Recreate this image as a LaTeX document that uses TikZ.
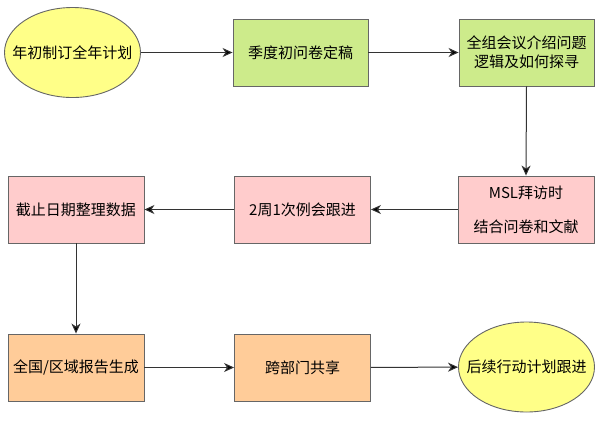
\documentclass[tikz,border=0pt]{standalone}
\usepackage{fontspec}
\setmainfont{Noto Sans CJK SC}
\usetikzlibrary{shapes.geometric,arrows.meta}
\definecolor{ylw}{HTML}{FFFF88}
\definecolor{grn}{HTML}{CDEB8B}
\definecolor{pnk}{HTML}{FFCCCC}
\definecolor{org}{HTML}{FFCC99}
\definecolor{bdr}{HTML}{666666}
\definecolor{lnc}{HTML}{333333}
\tikzset{
  base/.style={draw=bdr, line width=0.9pt, font=\fontsize{15}{19}\selectfont, align=center, inner sep=0pt},
  oval/.style={base, ellipse, fill=ylw, inner xsep=-16pt, inner ysep=-6pt, minimum width=136pt, minimum height=90pt},
  gbox/.style={base, rectangle, fill=grn, minimum width=135pt, minimum height=67pt},
  pbox/.style={base, rectangle, fill=pnk, minimum width=136pt, minimum height=67pt},
  obox/.style={base, rectangle, fill=org, minimum width=136pt, minimum height=67pt},
  conn/.style={draw=lnc, line width=1pt, -{Stealth[length=10pt,width=9pt,inset=3pt,fill=black]}}
}
\begin{document}
\begin{tikzpicture}[x=1pt,y=-1pt]
\useasboundingbox (0,0) rectangle (600,424);
\node[oval] (e1) at (72.5,52.5) {年初制订全年计划};
\node[gbox] (g2) at (300.5,52.5) {季度初问卷定稿};
\node[gbox] (g3) at (526.5,52.5) {全组会议介绍问题\\逻辑及如何探寻};
\node[pbox] (p3) at (526,209.5) {MSL拜访时\\[15pt]结合问卷和文献};
\node[pbox] (p2) at (302.5,209.5) {2周1次例会跟进};
\node[pbox] (p1) at (76,209.5) {截止日期整理数据};
\node[obox] (o1) at (76,367.5) {全国/区域报告生成};
\node[obox] (o2) at (302.5,367.5) {跨部门共享};
\node[oval] (e2) at (526.5,367) {后续行动计划跟进};
\draw[conn] (e1) -- (g2);
\draw[conn] (g2) -- (g3);
\draw[conn] (g3.south) -- (p3.north);
\draw[conn] (p3) -- (p2);
\draw[conn] (p2) -- (p1);
\draw[conn] (p1.south) -- (o1.north);
\draw[conn] (o1) -- (o2);
\draw[conn] (o2) -- (e2);
\end{tikzpicture}
\end{document}
